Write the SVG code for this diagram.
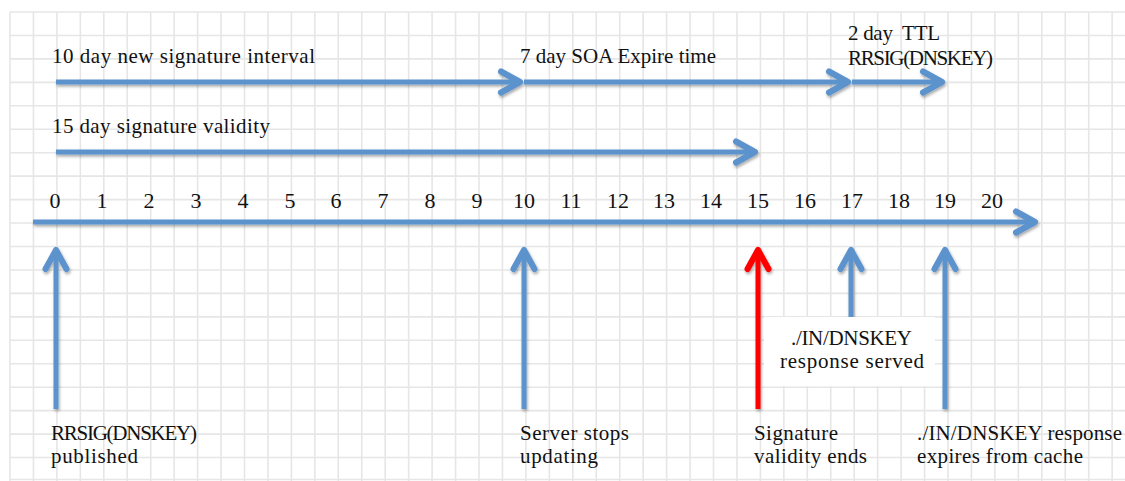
<svg xmlns="http://www.w3.org/2000/svg" width="1125" height="481" viewBox="0 0 1125 481">
<style>
  .grid { stroke: #e6e6e6; stroke-width: 1.6; fill: none; }
  .t { font-family: "Liberation Serif", "Times New Roman", serif; font-size: 21px; fill: #111; }
  .num { font-family: "Liberation Serif", "Times New Roman", serif; font-size: 22px; fill: #111; text-anchor: middle; }
  .blue { stroke: #5b93cd; stroke-width: 5; fill: none; marker-end: url(#chev); }
  .red { stroke: #ff0000; stroke-width: 5; fill: none; marker-end: url(#chevRed); }
</style>
<defs>
  <marker id="chev" viewBox="-26 -15 30 30" markerWidth="30" markerHeight="30" refX="0" refY="0" orient="auto" markerUnits="userSpaceOnUse">
    <path d="M-19,-10.5 L0,0 L-19,10.5" fill="none" stroke="#5b93cd" stroke-width="6" stroke-linejoin="round" stroke-linecap="round"/>
  </marker>
  <marker id="chevRed" viewBox="-26 -15 30 30" markerWidth="30" markerHeight="30" refX="0" refY="0" orient="auto" markerUnits="userSpaceOnUse">
    <path d="M-19,-10.5 L0,0 L-19,10.5" fill="none" stroke="#ff0000" stroke-width="6" stroke-linejoin="round" stroke-linecap="round"/>
  </marker>
  <filter id="shadow" x="-10%" y="-10%" width="120%" height="140%">
    <feDropShadow dx="1" dy="2" stdDeviation="1.5" flood-color="#000" flood-opacity="0.35"/>
  </filter>
</defs>
<rect width="1125" height="481" fill="#ffffff"/>
<g id="grid">
  <path class="grid" d="M10,12V481 M33.45,12V481 M56.9,12V481 M80.35,12V481 M103.8,12V481 M127.25,12V481 M150.7,12V481 M174.15,12V481 M197.6,12V481 M221.05,12V481 M244.5,12V481 M267.95,12V481 M291.4,12V481 M314.85,12V481 M338.3,12V481 M361.75,12V481 M385.2,12V481 M408.65,12V481 M432.1,12V481 M455.55,12V481 M479,12V481 M502.45,12V481 M525.9,12V481 M549.35,12V481 M572.8,12V481 M596.25,12V481 M619.7,12V481 M643.15,12V481 M666.6,12V481 M690.05,12V481 M713.5,12V481 M736.95,12V481 M760.4,12V481 M783.85,12V481 M807.3,12V481 M830.75,12V481 M854.2,12V481 M877.65,12V481 M901.1,12V481 M924.55,12V481 M948,12V481 M971.45,12V481 M994.9,12V481 M1018.35,12V481 M1041.8,12V481 M1065.25,12V481 M1088.7,12V481 M1112.15,12V481"/>
  <path class="grid" d="M10,12H1125 M10,35.45H1125 M10,58.9H1125 M10,82.35H1125 M10,105.8H1125 M10,129.25H1125 M10,152.7H1125 M10,176.15H1125 M10,199.6H1125 M10,223.05H1125 M10,246.5H1125 M10,269.95H1125 M10,293.4H1125 M10,316.85H1125 M10,340.3H1125 M10,363.75H1125 M10,387.2H1125 M10,410.65H1125 M10,434.1H1125 M10,457.55H1125 M10,479.5H1125"/>
</g>
<g id="connectors" filter="url(#shadow)">
  <line class="blue" x1="56" y1="82" x2="520" y2="82"/>
  <line class="blue" x1="524" y1="82" x2="848" y2="82"/>
  <line class="blue" x1="852" y1="82" x2="942" y2="82"/>
  <line class="blue" x1="56" y1="152" x2="755" y2="152"/>
  <line class="blue" x1="33" y1="222" x2="1035" y2="222"/>
  <line class="blue" x1="56" y1="409" x2="56" y2="250"/>
  <line class="blue" x1="524" y1="409" x2="524" y2="250"/>
  <line class="red" x1="758" y1="409" x2="758" y2="250"/>
  <line class="blue" x1="851" y1="318" x2="851" y2="250"/>
  <line class="blue" x1="945" y1="409" x2="945" y2="250"/>
</g>
<g id="interval-labels">
  <text class="t" x="52" y="63" textLength="263">10 day new signature interval</text>
  <text class="t" x="520" y="63" textLength="196">7 day SOA Expire time</text>
  <text class="t" x="848" y="40" textLength="92" xml:space="preserve">2 day  TTL</text>
  <text class="t" x="848" y="65" textLength="145">RRSIG(DNSKEY)</text>
  <text class="t" x="52" y="133" textLength="218">15 day signature validity</text>
</g>
<g id="axis-numbers">
  <text class="num" x="55" y="208">0</text>
  <text class="num" x="102" y="208">1</text>
  <text class="num" x="149" y="208">2</text>
  <text class="num" x="196" y="208">3</text>
  <text class="num" x="243" y="208">4</text>
  <text class="num" x="290" y="208">5</text>
  <text class="num" x="336" y="208">6</text>
  <text class="num" x="383" y="208">7</text>
  <text class="num" x="430" y="208">8</text>
  <text class="num" x="477" y="208">9</text>
  <text class="num" x="524" y="208">10</text>
  <text class="num" x="571" y="208">11</text>
  <text class="num" x="618" y="208">12</text>
  <text class="num" x="664" y="208">13</text>
  <text class="num" x="711" y="208">14</text>
  <text class="num" x="758" y="208">15</text>
  <text class="num" x="805" y="208">16</text>
  <text class="num" x="852" y="208">17</text>
  <text class="num" x="899" y="208">18</text>
  <text class="num" x="945" y="208">19</text>
  <text class="num" x="992" y="208">20</text>
</g>
<g id="event-published">
  <text class="t" x="51" y="440" textLength="146">RRSIG(DNSKEY)</text>
  <text class="t" x="51" y="463" textLength="87">published</text>
</g>
<g id="event-server-stops">
  <text class="t" x="520" y="440" textLength="109">Server stops</text>
  <text class="t" x="520" y="463" textLength="78">updating</text>
</g>
<g id="event-validity-ends">
  <text class="t" x="754" y="440" textLength="84">Signature</text>
  <text class="t" x="754" y="463" textLength="113">validity ends</text>
</g>
<g id="event-response-served">
  <rect x="764" y="317" width="171" height="69" fill="#ffffff"/>
  <text class="t" x="851.5" y="345" text-anchor="middle" textLength="121">./IN/DNSKEY</text>
  <text class="t" x="852" y="368" text-anchor="middle" textLength="144">response served</text>
</g>
<g id="event-expires">
  <text class="t" x="917" y="440" textLength="205">./IN/DNSKEY response</text>
  <text class="t" x="917" y="463" textLength="166">expires from cache</text>
</g>
</svg>
